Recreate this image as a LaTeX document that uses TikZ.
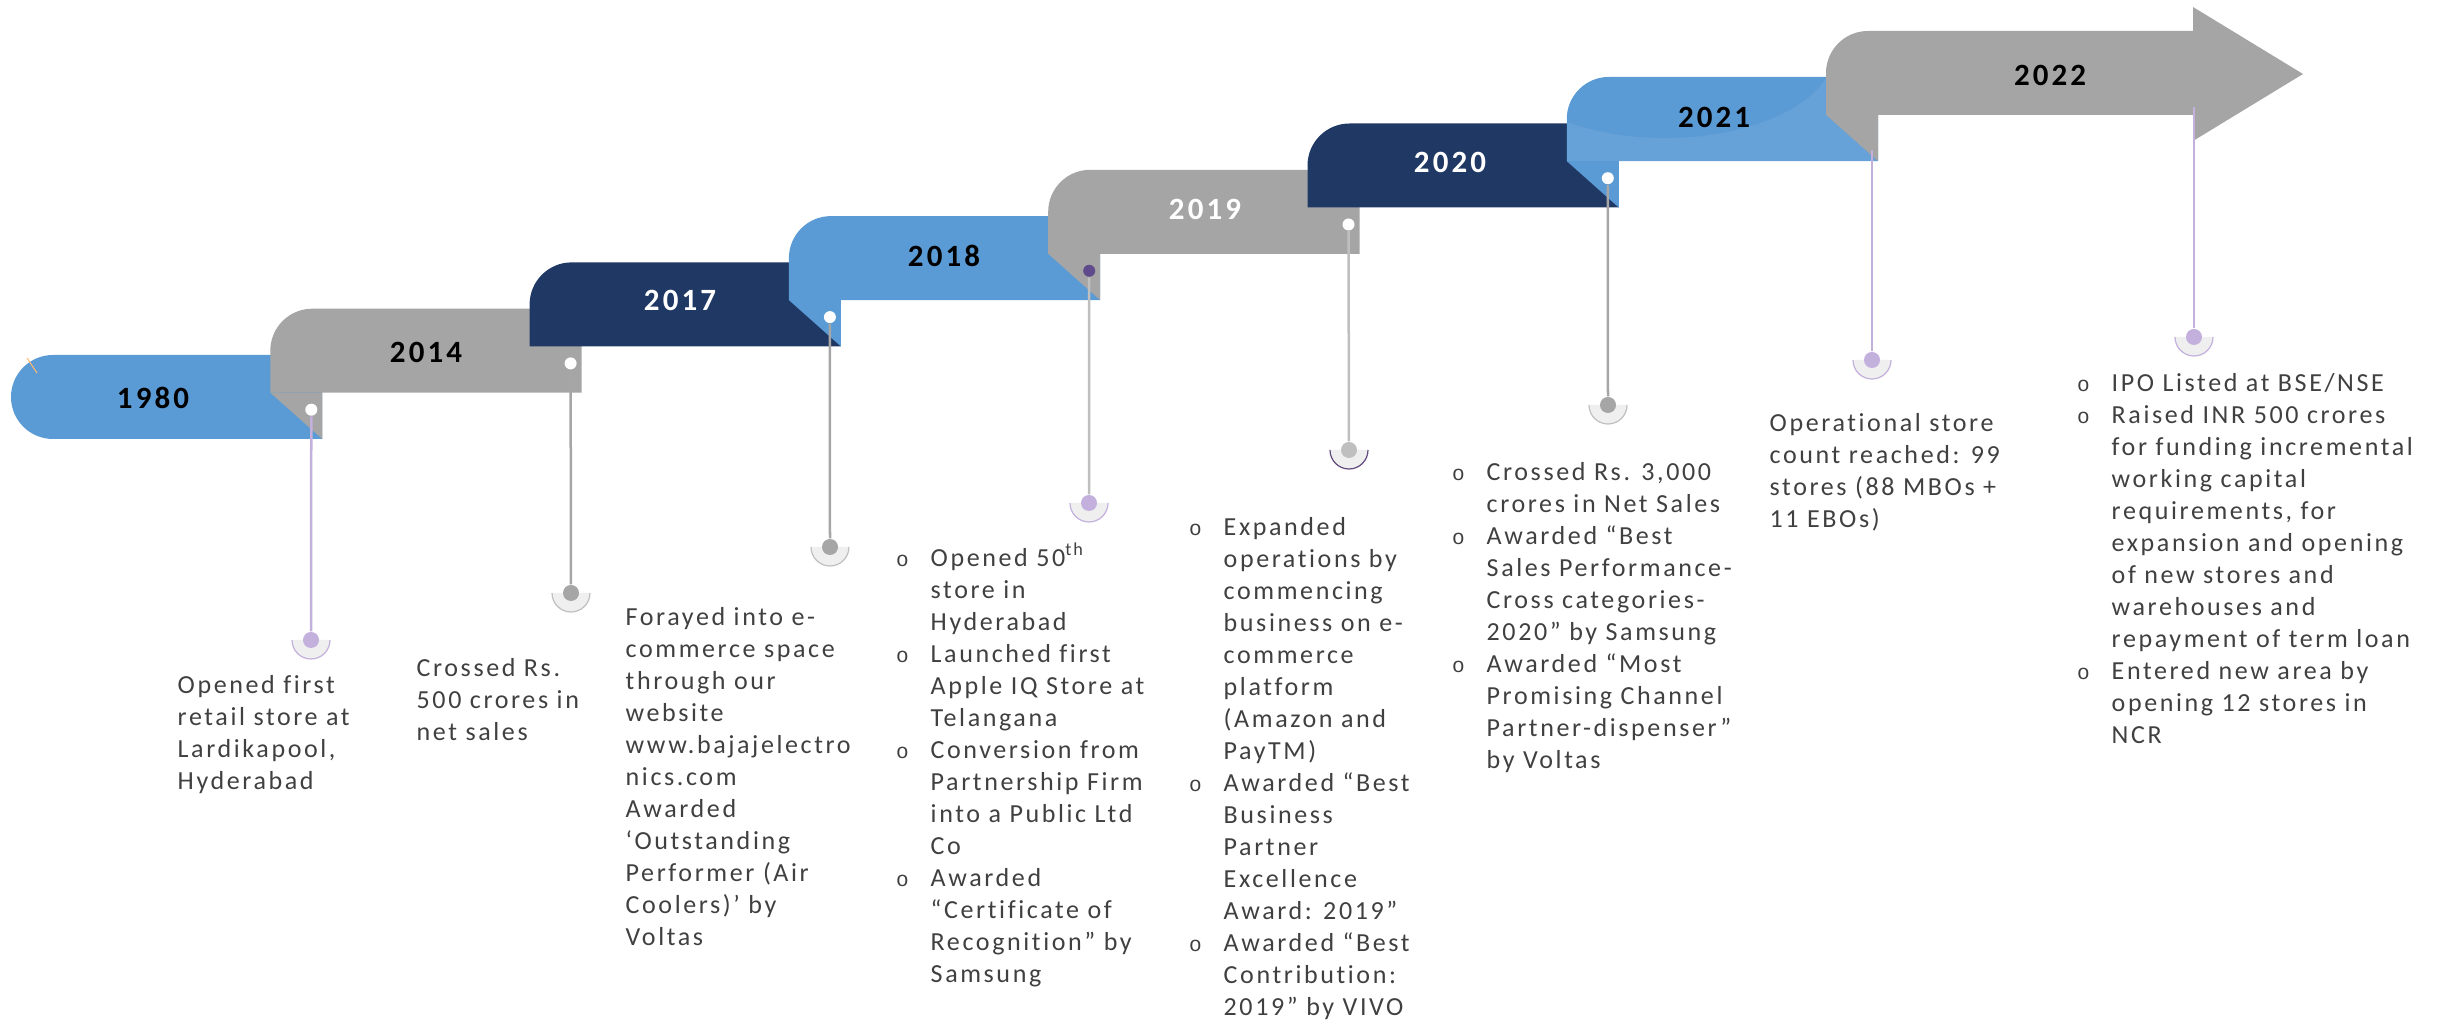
\documentclass[tikz,border=0pt]{standalone}
\usepackage{fontspec}
\setmainfont{Carlito}
\newfontfamily\yearfont{Carlito}[LetterSpace=10,Ligatures=CommonOff]
\newfontfamily\bodyfont{Carlito}[LetterSpace=10,Ligatures=CommonOff]
\newfontfamily\bulfont{Liberation Mono}
\usepackage{xcolor}
\usepackage{tikz}

\definecolor{tabblue}{HTML}{5B9BD5}
\definecolor{tabgray}{HTML}{A5A5A5}
\definecolor{tabnavy}{HTML}{203864}
\definecolor{tablight}{HTML}{66A1D7}
\definecolor{lav}{HTML}{C4B0DC}
\definecolor{midgray}{HTML}{A6A6A6}
\definecolor{lightgray}{HTML}{BFBFBF}
\definecolor{deeppurple}{HTML}{604A7B}
\definecolor{dotpurple}{HTML}{5F4B8B}
\definecolor{capfill}{HTML}{EFEFEF}
\definecolor{bodytext}{HTML}{404040}

\newcommand\bul{\llap{{\bulfont\fontsize{6}{6}\selectfont o}\hspace{0.22cm}}}

\begin{document}
\begin{tikzpicture}[
      x=0.01cm, y=-0.01cm,
      year/.style={font=\yearfont\fontsize{8.8}{10}\selectfont\bfseries, inner sep=0pt},
      body/.style={font=\bodyfont\fontsize{7.4}{9.1}\selectfont, text=bodytext, align=left, anchor=north west, inner sep=0pt},
      folddot/.style={circle, inner sep=0pt, minimum size=0.12cm},
      capdot/.style={circle, inner sep=0pt, minimum size=0.16cm},
      stem/.style={line width=0.025cm},
    ]
    \useasboundingbox (0,0) rectangle (2450,1022);

    % First tab (round on both left corners)
    \fill[tabblue] (53,439) .. controls (29.8,439) and (11,420.2) .. (11,397)
      .. controls (11,373.8) and (29.8,355) .. (53,355) -- (322,355) -- (322,439) -- cycle;
    \draw[orange!55, line width=0.01cm] (27,358) -- (37,373);

    % Middle tabs
    \foreach \i/\c in {1/tabgray,2/tabnavy,3/tabblue,4/tabgray,5/tabnavy,6/tablight} {
      \pgfmathsetmacro\L{11+259.3*\i}
      \pgfmathsetmacro\T{355-46.3*\i}
      \pgfmathsetmacro\R{11+259.3*(\i+1)+52}
      \fill[\c] (\L,\T+84) -- (\L,\T+42) .. controls (\L,\T+18.8) and (\L+18.8,\T) .. (\L+42,\T)
        -- (\R,\T) -- (\R,\T+84) -- cycle;
    }
    % shading on the 2021 tab
    \begin{scope}
      \clip (1567,161) -- (1567,119) .. controls (1567,95.8) and (1585.8,77) .. (1609,77)
        -- (1878,77) -- (1878,161) -- cycle;
      \fill[tabblue] (1665,50) ellipse [x radius=170, y radius=88];
    \end{scope}

    % Last tab as an arrow
    \fill[tabgray] (1826,115) -- (1826,73) .. controls (1826,49.8) and (1844.8,31) .. (1868,31)
      -- (2193,31) -- (2193,7) -- (2303,74) -- (2193,141) -- (2193,115) -- cycle;

    % Folds under the next tab
    \foreach \i/\c in {0/tabgray,2/tabblue,3/tabgray,5/tabblue,6/tabgray} {
      \pgfmathsetmacro\L{11+259.3*(\i+1)}
      \pgfmathsetmacro\T{355-46.3*\i}
      \pgfmathsetmacro\R{\L+52}
      \fill[\c] (\L,\T+37.7) -- (\R,\T+37.7) -- (\R,\T+84) -- cycle;
    }

    % Years
    \foreach \yr/\px/\py/\tc in {1980/153/398/black, 2014/426/352/black, 2017/680/300/white,
        2018/944/256/black, 2019/1205/209/white, 2020/1450/162/white, 2021/1714/117/black,
        2022/2050/75/black} {
      \node[year, text=\tc] (y\yr) at (\px,\py) {\yr};
    }

    % End caps
    \foreach \n/\mx/\my/\dc/\ac in {1980/311/640/lav/lav, 2014/571/593/midgray/lightgray,
        2017/830/547/midgray/lightgray, 2018/1089/503/lav/lav, 2019/1349/450/lightgray/deeppurple,
        2020/1608/405/midgray/lightgray, 2021/1872/360/lav/lav, 2022/2194/337/lav/lav} {
      \fill[capfill] (\mx-19,\my) .. controls (\mx-19,\my+10.5) and (\mx-10.5,\my+19) .. (\mx,\my+19)
        .. controls (\mx+10.5,\my+19) and (\mx+19,\my+10.5) .. (\mx+19,\my) -- cycle;
      \draw[\ac, line width=0.012cm] (\mx-19,\my) .. controls (\mx-19,\my+10.5) and (\mx-10.5,\my+19) .. (\mx,\my+19)
        .. controls (\mx+10.5,\my+19) and (\mx+19,\my+10.5) .. (\mx+19,\my);
      \node[capdot, fill=\dc] (m\n) at (\mx,\my) {};
    }

    % Dots on the folds
    \foreach \n/\i/\dc in {1980/0/white, 2014/1/white, 2017/2/white, 2018/3/dotpurple,
        2019/4/white, 2020/5/white} {
      \node[folddot, fill=\dc] (d\n) at ({11+259.3*(\i+1)+41}, {355-46.3*(\i+1)+101}) {};
    }
    \coordinate (d2021) at (1872,150);
    \coordinate (d2022) at (2194,107);

    % Stems: fold -> cap
    \foreach \n/\lc in {1980/lav, 2014/midgray, 2017/midgray, 2018/lightgray, 2019/lightgray,
        2020/midgray, 2021/lav, 2022/lav} {
      \draw[stem, \lc] (d\n) -- (m\n);
    }

    % Notes
    \node[body] (t1980) at (177,670.6) {\strut Opened first\\retail store at\\Lardikapool,\\Hyderabad};
    \node[body] (t2014) at (416,653.6) {\strut Crossed Rs.\\500 crores in\\net sales};
    \node[body] (t2017) at (625,602.6) {\strut Forayed into e-\\commerce space\\through our\\website\\
      www.bajajelectro\\nics.com\\Awarded\\‘Outstanding\\Performer (Air\\Coolers)’ by\\Voltas};
    \node[body] (t2018) at (930,542.6) {\strut\bul Opened 50\textsuperscript{th}\\store in\\Hyderabad\\
      \bul Launched first\\Apple IQ Store at\\Telangana\\\bul Conversion from\\Partnership Firm\\
      into a Public Ltd\\Co\\\bul Awarded\\“Certificate of\\Recognition” by\\Samsung};
    \node[body] (t2019) at (1223,512.6) {\strut\bul Expanded\\operations by\\commencing\\business on e-\\
      commerce\\platform\\(Amazon and\\PayTM)\\\bul Awarded “Best\\Business\\Partner\\Excellence\\
      Award: 2019”\\\bul Awarded “Best\\Contribution:\\2019” by VIVO};
    \node[body] (t2020) at (1486,457.6) {\strut\bul Crossed Rs. 3,000\\crores in Net Sales\\
      \bul Awarded “Best\\Sales Performance-\\Cross categories-\\2020” by Samsung\\
      \bul Awarded “Most\\Promising Channel\\Partner-dispenser”\\by Voltas};
    \node[body] (t2021) at (1769,408.6) {\strut Operational store\\count reached: 99\\stores (88 MBOs +\\11 EBOs)};
    \node[body] (t2022) at (2111,368.6) {\strut\bul IPO Listed at BSE/NSE\\\bul Raised INR 500 crores\\
      for funding incremental\\working capital\\requirements, for\\expansion and opening\\
      of new stores and\\warehouses and\\repayment of term loan\\\bul Entered new area by\\
      opening 12 stores in\\NCR};
  \end{tikzpicture}
\end{document}
